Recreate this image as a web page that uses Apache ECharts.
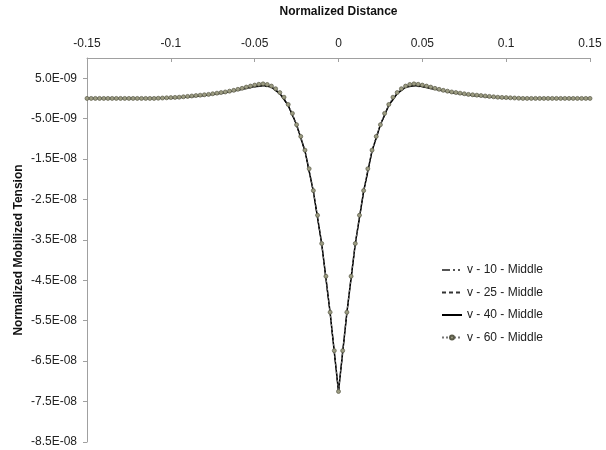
<!DOCTYPE html>
<html>
<head>
<meta charset="utf-8">
<script src="https://cdn.jsdelivr.net/npm/echarts@6/dist/echarts.min.js"></script>
<style>
  html, body { margin: 0; padding: 0; background: #fff; }
  #chart { width: 606px; height: 450px; }
</style>
</head>
<body>
<div id="chart"></div>
<script>
// Values are in units of 1e-9 (tick labels convert back to scientific notation)
const VALUE_UNIT = 1e-9;

const seriesNames = ['v - 10 - Middle', 'v - 25 - Middle', 'v - 40 - Middle', 'v - 60 - Middle'];
const xTicks = [-0.15, -0.1, -0.05, 0, 0.05, 0.1, 0.15];
const yTicks = [5, -5, -15, -25, -35, -45, -55, -65, -75, -85];

// Coarse sampling for the plain line series: x from -0.15 to 0.15, step 0.005
const xCoarseStart = -0.15, xCoarseStep = 0.005;
const v10 = [0,0,0,0,0,0,0,0,0,0.05,0.1,0.15,0.3,0.5,0.7,0.95,1.25,1.6,2.0,2.4,2.8,3.05,2.7,1.1,-1.9,-6.7,-13.2,-23.1,-36.1,-53.1,-72.5,
             -53.1,-36.1,-23.1,-13.2,-6.7,-1.9,1.1,2.7,3.05,2.8,2.4,2.0,1.6,1.25,0.95,0.7,0.5,0.3,0.15,0.1,0.05,0,0,0,0,0,0,0,0,0];
const v25 = [0,0,0,0,0,0,0,0,0,0.05,0.1,0.2,0.35,0.55,0.8,1.05,1.35,1.7,2.1,2.6,3.05,3.3,2.9,1.3,-1.6,-6.4,-12.9,-22.9,-36.0,-53.0,-72.6,
             -53.0,-36.0,-22.9,-12.9,-6.4,-1.6,1.3,2.9,3.3,3.05,2.6,2.1,1.7,1.35,1.05,0.8,0.55,0.35,0.2,0.1,0.05,0,0,0,0,0,0,0,0,0];
const v40 = [0,0,0,0,0,0,0,0,0,0.05,0.1,0.2,0.35,0.55,0.75,1.0,1.3,1.65,2.05,2.5,2.95,3.2,2.8,1.2,-1.7,-6.5,-13.0,-23.0,-36.0,-53.0,-72.5,
             -53.0,-36.0,-23.0,-13.0,-6.5,-1.7,1.2,2.8,3.2,2.95,2.5,2.05,1.65,1.3,1.0,0.75,0.55,0.35,0.2,0.1,0.05,0,0,0,0,0,0,0,0,0];

// Fine sampling for the marker series: x from -0.15 to 0.15, step 0.0025
const xFineStart = -0.15, xFineStep = 0.0025;
const v60 = [0,0,0,0,0,0,0,0,0,0,0,0,0,0,0,0,0,
             0.05,0.1,0.15,0.2,0.25,0.3,0.4,0.5,0.6,0.7,0.8,0.9,1.0,1.15,1.3,1.45,1.6,1.8,2.0,2.25,
             2.5,2.8,3.05,3.3,3.5,3.6,3.45,3.05,2.4,1.45,0.3,-1.5,-3.7,-6.5,-9.4,-12.8,-17.4,-22.8,-28.9,-35.9,
             -44.0,-52.9,-62.4,-72.5,
             -62.4,-52.9,-44.0,-35.9,-28.9,-22.8,-17.4,-12.8,-9.4,-6.5,-3.7,-1.5,0.3,1.45,2.4,3.05,3.45,3.6,3.5,3.3,
             3.05,2.8,2.5,2.25,2.0,1.8,1.6,1.45,1.3,1.15,1.0,0.9,0.8,0.7,0.6,0.5,0.4,0.3,0.25,0.2,0.15,0.1,0.05,
             0,0,0,0,0,0,0,0,0,0,0,0,0,0,0,0,0];

function pairs(start, step, ys) {
  return ys.map((y, i) => [Math.round((start + i * step) * 10000) / 10000, y]);
}
function sciLabel(v) {
  const s = (v * VALUE_UNIT).toExponential(1);
  const parts = s.split('e');
  const n = parseInt(parts[1], 10);
  const a = Math.abs(n);
  return parts[0] + 'E' + (n < 0 ? '-' : '+') + (a < 10 ? '0' : '') + a;
}

const FONT = '"Liberation Sans", Arial, sans-serif';
const chart = echarts.init(document.getElementById('chart'), null, { renderer: 'canvas' });

chart.setOption({
  animation: false,
  backgroundColor: '#ffffff',
  textStyle: { fontFamily: FONT },
  grid: { left: 87, right: 16, top: 58, bottom: 8, containLabel: false },
  legend: {
    orient: 'vertical',
    left: 441, top: 264,
    padding: 0,
    itemWidth: 20, itemHeight: 5, itemGap: 10.5,
    textStyle: { fontFamily: FONT, fontSize: 12, color: '#222' },
    data: [
      { name: seriesNames[0], itemStyle: { opacity: 0 } },
      { name: seriesNames[1], itemStyle: { opacity: 0 } },
      { name: seriesNames[2], itemStyle: { opacity: 0 } },
      { name: seriesNames[3] }
    ]
  },
  xAxis: {
    type: 'value',
    position: 'top',
    min: xTicks[0], max: xTicks[xTicks.length - 1], interval: 0.05,
    name: 'Normalized Distance',
    nameLocation: 'middle',
    nameGap: 40,
    nameMoveOverlap: false,
    nameTextStyle: { fontFamily: FONT, fontSize: 12, fontWeight: 'bold', color: '#111' },
    axisLine: { show: true, onZero: false, lineStyle: { color: '#a0a0a0', width: 1 } },
    axisTick: { show: true, inside: true, length: 4, lineStyle: { color: '#a0a0a0' } },
    axisLabel: { fontFamily: FONT, fontSize: 12, color: '#222', margin: 8,
      formatter: v => String(Math.round(v * 100) / 100) },
    splitLine: { show: false }
  },
  yAxis: {
    type: 'value',
    min: yTicks[yTicks.length - 1], max: 10, interval: 10,
    name: 'Normalized Mobilized Tension',
    nameLocation: 'middle',
    nameGap: 62,
    nameMoveOverlap: false,
    nameRotate: 90,
    nameTextStyle: { fontFamily: FONT, fontSize: 12, fontWeight: 'bold', color: '#111' },
    axisLine: { show: true, onZero: false, lineStyle: { color: '#a0a0a0', width: 1 } },
    axisTick: { show: true, inside: false, length: 4, lineStyle: { color: '#a0a0a0' } },
    axisLabel: { fontFamily: FONT, fontSize: 12, color: '#222', margin: 10,
      showMaxLabel: false,
      formatter: v => (Math.abs(v - 10) < 1e-6 ? '' : sciLabel(v)) },
    splitLine: { show: false }
  },
  series: [
    {
      name: seriesNames[0], type: 'line', data: pairs(xCoarseStart, xCoarseStep, v10),
      symbol: 'none', smooth: false,
      lineStyle: { color: '#555', width: 1, type: [8, 3, 2, 3, 2, 3] },
      itemStyle: { color: '#555' }
    },
    {
      name: seriesNames[1], type: 'line', data: pairs(xCoarseStart, xCoarseStep, v25),
      symbol: 'none',
      lineStyle: { color: '#333', width: 1, type: [4, 3] },
      itemStyle: { color: '#333' }
    },
    {
      name: seriesNames[2], type: 'line', data: pairs(xCoarseStart, xCoarseStep, v40),
      symbol: 'none',
      lineStyle: { color: '#000', width: 1.5, type: 'solid' },
      itemStyle: { color: '#000' }
    },
    {
      name: seriesNames[3], type: 'line', data: pairs(xFineStart, xFineStep, v60),
      symbol: 'circle', symbolSize: 4, showSymbol: true, showAllSymbol: true,
      lineStyle: { color: '#777', width: 1, type: [2, 2] },
      itemStyle: { color: '#9c9c82', borderColor: '#5a5a48', borderWidth: 0.7 }
    }
  ]
});
</script>
</body>
</html>
